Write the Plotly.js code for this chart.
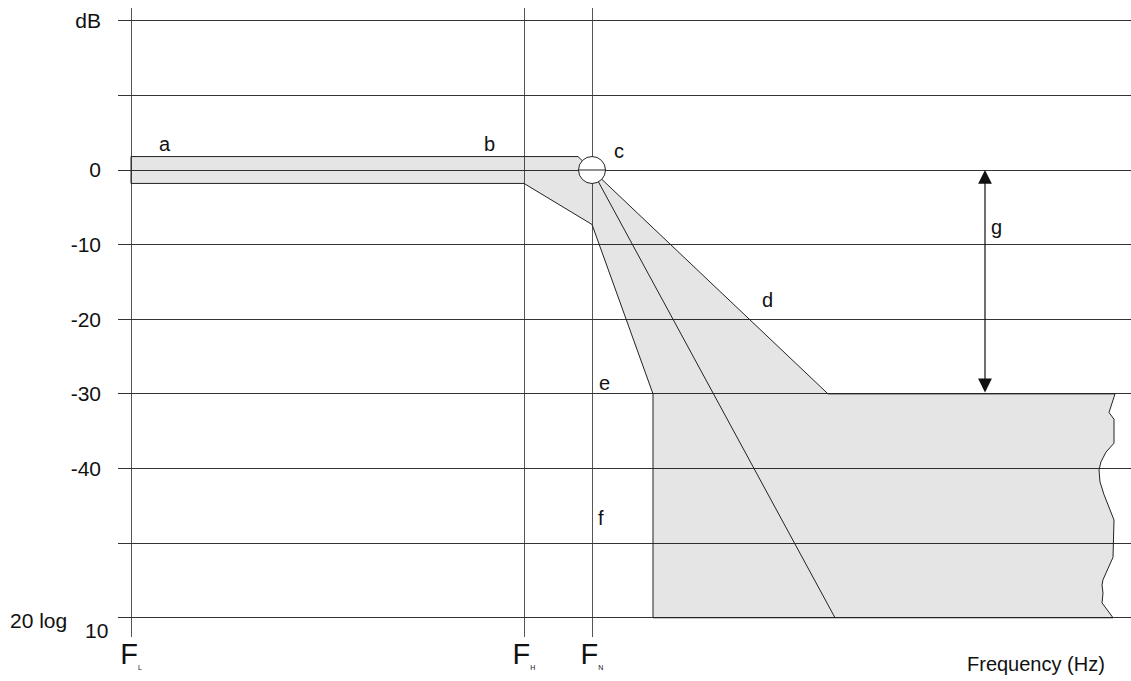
<!DOCTYPE html>
<html>
<head>
<meta charset="utf-8">
<script src="https://cdn.plot.ly/plotly-3.0.1.min.js"></script>
<style>html,body{margin:0;padding:0;background:#fff;}#chart{width:1131px;height:681px;}</style>
</head>
<body>
<div id="chart"></div>
<script>
// Frequency markers (arbitrary linear frequency units)
const freqMarks = [131, 524, 592];
const freqSubs = ['L', 'H', 'N'];
// dB axis
const dbTicks = [20, 10, 0, -10, -20, -30, -40, -50, -60];
const dbTickText = ['dB', '', '0', '-10', '-20', '-30', '-40', '', ''];
// Tolerance mask outline (frequency, dB)
const maskX = [131, 578, 592, 828, 1115, 1109, 1114, 1114, 1106, 1101, 1099, 1100, 1104, 1109, 1114, 1113, 1103, 1102, 1103, 1102, 1113, 653, 653, 592, 524, 131, 131];
const maskY = [1.8, 1.8, 0, -30, -30, -32.5, -33.4, -36.6, -37.8, -39.1, -40.2, -41.8, -43.5, -45.3, -46.9, -51.9, -54.9, -55.6, -56.7, -58.0, -60, -60, -30, -7.3, -1.8, -1.8, 1.8];
// Middle roll-off line
const rollX = [592, 835];
const rollY = [0, -60];
// Corner point c
const cornerF = 592, cornerDb = 0, cornerR = 13.5;
// Attenuation arrow g
const arrowF = 985, arrowTop = 0, arrowBottom = -30;
// Letter labels
const letters = ['a', 'b', 'c', 'd', 'e', 'f', 'g'];
const letterX = [165, 489, 619, 767, 604, 601, 996];
const letterY = [3.5, 3.5, 2.55, -17.4, -28.5, -46.6, -7.6];
// Outer texts
const unitText = ['20 log', '10'];
const xTitle = 'Frequency (Hz)';

const FONT = 'Liberation Sans, Arial, sans-serif';
const pxPerDb = 7.4625;
// paper helpers (plot area: x 118..1131, y 8..637 px)
const px = v => (v - 118) / 1013;
const py = v => (637 - v) / 629;

const traces = [
  {x: maskX, y: maskY, type: 'scatter', mode: 'lines', fill: 'toself',
   fillcolor: 'rgba(0,0,0,0.1)', line: {color: '#222', width: 1}, hoverinfo: 'skip'},
  {x: rollX, y: rollY, type: 'scatter', mode: 'lines',
   line: {color: '#222', width: 1}, hoverinfo: 'skip'}
];

const annotations = letters.map((t, i) => ({
  x: letterX[i], y: letterY[i], xref: 'x', yref: 'y', text: t, showarrow: false,
  font: {family: FONT, size: 20, color: '#111'}
}));
annotations.push({
  x: arrowF, y: arrowTop, ax: arrowF, ay: arrowBottom, axref: 'x', ayref: 'y',
  xref: 'x', yref: 'y', text: '', showarrow: true, arrowside: 'end+start',
  arrowhead: 2, startarrowhead: 2, arrowsize: 2.3, startarrowsize: 2.3, arrowwidth: 1.2,
  arrowcolor: '#111', standoff: 0, startstandoff: 0
});
const outer = (x, y, text, size) => ({
  x: px(x), y: py(y), xref: 'paper', yref: 'paper', xanchor: 'center', yanchor: 'middle',
  text: text, showarrow: false, font: {family: FONT, size: size, color: '#111'}
});
annotations.push(outer(38, 620, unitText[0], 21));
annotations.push(outer(96, 630, unitText[1], 21));
annotations.push(outer(1036, 664, xTitle, 20));

const shapes = [
  {type: 'circle', xref: 'x', yref: 'y', layer: 'above',
   x0: cornerF - cornerR, x1: cornerF + cornerR,
   y0: cornerDb - cornerR / pxPerDb, y1: cornerDb + cornerR / pxPerDb,
   fillcolor: '#fff', line: {color: '#222', width: 1}},
  {type: 'line', xref: 'x', yref: 'y', layer: 'above',
   x0: cornerF - cornerR, x1: cornerF + cornerR, y0: cornerDb, y1: cornerDb,
   line: {color: '#222', width: 1}}
];

const layout = {
  width: 1131, height: 681,
  margin: {l: 118, r: 0, t: 8, b: 44, pad: 0},
  paper_bgcolor: '#fff', plot_bgcolor: '#fff',
  showlegend: false,
  font: {family: FONT, color: '#111'},
  xaxis: {
    range: [118, 1131], tickmode: 'array', tickvals: freqMarks,
    ticktext: freqSubs.map(s => 'F<sub><span style="font-size:7px">' + s + '</span></sub>'),
    showgrid: true, gridcolor: '#555', gridwidth: 1, zeroline: false, showline: false,
    ticks: '', tickfont: {family: FONT, size: 29, color: '#111'}, ticklabelstandoff: -3,
    fixedrange: true
  },
  yaxis: {
    range: [(170 - 637) / pxPerDb, (170 - 8) / pxPerDb], tickmode: 'array',
    tickvals: dbTicks, ticktext: dbTickText,
    showgrid: true, gridcolor: '#333', gridwidth: 1, zeroline: false, showline: false,
    ticks: '', tickfont: {family: FONT, size: 21, color: '#111'}, ticklabelstandoff: 16,
    fixedrange: true
  },
  annotations: annotations,
  shapes: shapes
};

Plotly.newPlot('chart', traces, layout, {displayModeBar: false, staticPlot: true});
</script>
</body>
</html>
